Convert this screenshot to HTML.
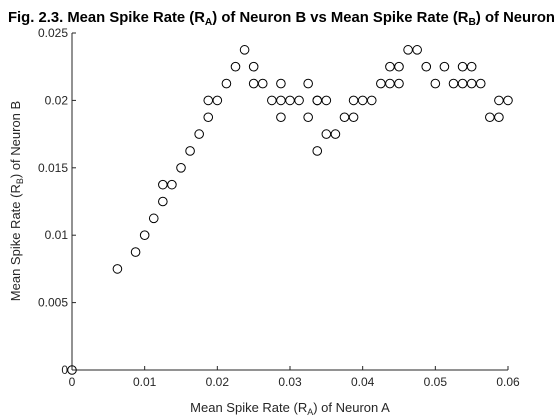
<!DOCTYPE html>
<html><head><meta charset="utf-8"><style>
body{margin:0;background:#fff;}
svg{display:block;font-family:"Liberation Sans",Arial,sans-serif;}
</style></head><body>
<svg id="chart" width="560" height="420" viewBox="0 0 560 420">
<rect width="560" height="420" fill="#fff"/>
<text x="8" y="22" font-size="14.5" font-weight="bold" fill="#000" textLength="547" lengthAdjust="spacingAndGlyphs">Fig. 2.3. Mean Spike Rate (R<tspan font-size="10" dy="3">A</tspan><tspan dy="-3">) of Neuron B vs Mean Spike Rate (R</tspan><tspan font-size="10" dy="3">B</tspan><tspan dy="-3">) of Neuron</tspan></text>
<g id="axes"></g>
<g id="points"></g>
<text x="290" y="412" font-size="13" text-anchor="middle" fill="#262626">Mean Spike Rate (R<tspan font-size="9" dy="3">A</tspan><tspan dy="-3">) of Neuron A</tspan></text>
<text transform="translate(20,201) rotate(-90)" font-size="13" text-anchor="middle" fill="#262626">Mean Spike Rate (R<tspan font-size="9" dy="3">B</tspan><tspan dy="-3">) of Neuron B</tspan></text>
</svg>
<script>
const xVals=[0,0.00625,0.00875,0.01,0.01125,0.0125,0.0125,0.01375,0.015,0.01625,0.0175,0.01875,0.01875,0.02,0.02125,0.0225,0.02375,0.025,0.025,0.02625,0.0275,0.02875,0.02875,0.02875,0.03,0.03125,0.0325,0.0325,0.03375,0.035,0.03875,0.04,0.04125,0.03375,0.03375,0.035,0.03625,0.0375,0.03875,0.0425,0.04375,0.045,0.04375,0.045,0.04625,0.0475,0.04875,0.05,0.05125,0.0525,0.05375,0.055,0.05625,0.05375,0.055,0.0575,0.05875,0.05875,0.06];
const yVals=[0,0.0075,0.00875,0.01,0.01125,0.0125,0.01375,0.01375,0.015,0.01625,0.0175,0.01875,0.02,0.02,0.02125,0.0225,0.02375,0.0225,0.02125,0.02125,0.02,0.02125,0.02,0.01875,0.02,0.02,0.02125,0.01875,0.02,0.02,0.02,0.02,0.02,0.01625,0.02,0.0175,0.0175,0.01875,0.01875,0.02125,0.02125,0.02125,0.0225,0.0225,0.02375,0.02375,0.0225,0.02125,0.0225,0.02125,0.02125,0.02125,0.02125,0.0225,0.0225,0.01875,0.01875,0.02,0.02];
const xTicks=[0,0.01,0.02,0.03,0.04,0.05,0.06];
const xTickLabels=["0","0.01","0.02","0.03","0.04","0.05","0.06"];
const yTicks=[0,0.005,0.01,0.015,0.02,0.025];
const yTickLabels=["0","0.005","0.01","0.015","0.02","0.025"];
const L=72,R=508,T=33,B=370;
const sx=v=>L+v/0.06*(R-L), sy=v=>B-v/0.025*(B-T);
const NS="http://www.w3.org/2000/svg";
const ax=document.getElementById('axes'), pts=document.getElementById('points');
function mk(tag,attrs,parent){const e=document.createElementNS(NS,tag);for(const k in attrs)e.setAttribute(k,attrs[k]);parent.appendChild(e);return e;}
let e=mk('line',{x1:L,y1:B,x2:R,y2:B,stroke:'#262626','stroke-width':1},ax);


e=mk('line',{x1:L,y1:B,x2:L,y2:T,stroke:'#262626','stroke-width':1},ax);


xTicks.forEach((v,i)=>{
  const t=mk('line',{x1:sx(v),y1:B,x2:sx(v),y2:B-4,stroke:'#262626'},ax);
  
  
  const l=mk('text',{x:sx(v),y:B+16,'font-size':12,'text-anchor':'middle',fill:'#262626'},ax);
  l.textContent=xTickLabels[i];
  
  
});
yTicks.forEach((v,i)=>{
  const t=mk('line',{x1:L,y1:sy(v),x2:L+4,y2:sy(v),stroke:'#262626'},ax);
  
  
  const l=mk('text',{x:L-4,y:sy(v)+4,'font-size':12,'text-anchor':'end',fill:'#262626'},ax);
  l.textContent=yTickLabels[i];
  
  
});
xVals.forEach((v,i)=>{
  const c=mk('circle',{cx:sx(v),cy:sy(yVals[i]),r:4.3,fill:'none',stroke:'#000','stroke-width':1},pts);
  
  
});
</script>
</body></html>
